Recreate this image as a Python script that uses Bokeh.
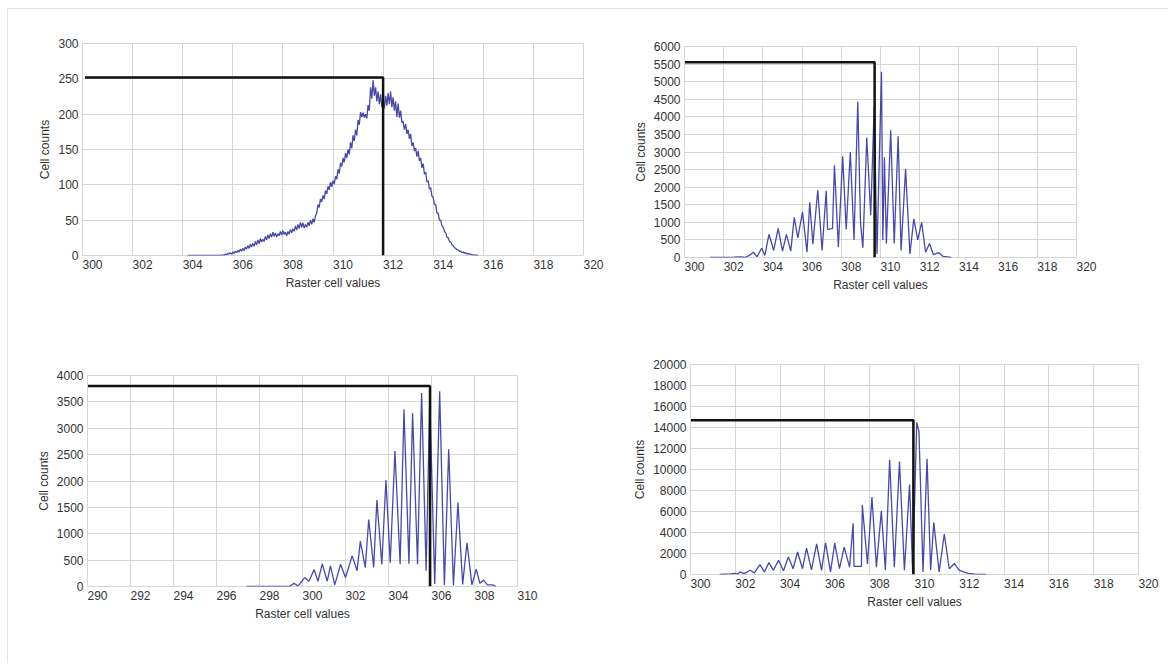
from bokeh.plotting import figure
from bokeh.models import Range1d, FixedTicker
from bokeh.layouts import row, column
from bokeh.core.properties import value
from bokeh.embed import file_html
from bokeh.resources import INLINE

# ---------------- data ----------------
# Panel 1 (top-left): histogram bins every 0.05 starting at 304.2
p1_start = 304.2
p1_step = 0.05
p1_counts = [0] * 26 + [
    0, 0, 1, 0, 2, 1, 3, 2, 4, 2, 5,
    3, 6, 4, 7, 5, 9, 6, 10, 7, 12, 9, 14, 10, 16, 12, 17, 13, 20, 15, 22,
    17, 24, 19, 23, 20, 27, 22, 29, 24, 31, 26, 33, 27, 32, 26, 31, 28, 34, 29, 35,
    30, 33, 28, 34, 30, 37, 32, 38, 34, 42, 36, 44, 38, 47, 40, 46, 39, 44, 40, 47,
    42, 50, 44, 52, 47, 56, 60, 72, 68, 80, 76, 85, 80, 92, 87, 98, 93, 104, 97, 106,
    101, 112, 108, 122, 116, 131, 126, 138, 132, 145, 138, 150, 143, 160, 152, 170, 162, 178, 170, 192,
    185, 203, 196, 202, 195, 200, 194, 213, 205, 238, 222, 248, 226, 238, 218, 232, 214, 228, 210, 222,
    208, 226, 212, 230, 214, 232, 210, 224, 205, 218, 196, 215, 195, 205, 188, 190, 178, 186, 172, 178,
    165, 172, 155, 160, 148, 152, 140, 148, 134, 138, 124, 130, 115, 118, 104, 106, 94, 96, 84, 82,
    72, 72, 60, 60, 50, 50, 42, 40, 34, 32, 26, 25, 20, 19, 15, 14, 11, 10, 8, 8,
    6, 6, 4, 5, 3, 4, 2, 3, 2, 2, 1, 1, 0, 1, 0, 0,
]
p1_values = [round(p1_start + p1_step * i, 2) for i in range(len(p1_counts))]
p1_xticks = [300, 302, 304, 306, 308, 310, 312, 314, 316, 318, 320]
p1_yticks = [0, 50, 100, 150, 200, 250, 300]
p1_mark_x, p1_mark_y, p1_mark_from = 312.0, 252, 300.1

# Panel 2 (top-right)
p2_values = [301.3, 302.0, 302.5, 302.9, 303.1, 303.3, 303.52, 303.7, 303.94, 304.1,
             304.31, 304.55, 304.78, 305.0, 305.2, 305.42, 305.6, 305.78, 306.02, 306.25,
             306.39, 306.55, 306.8, 307.02, 307.23, 307.3, 307.55, 307.65, 307.85, 308.07,
             308.25, 308.46, 308.65, 308.84, 308.98, 309.1, 309.3, 309.5, 309.68, 309.82,
             310.05, 310.12, 310.2, 310.3, 310.52, 310.7, 310.9, 311.05, 311.28, 311.5,
             311.7, 311.9, 312.1, 312.3, 312.5, 312.7, 312.97, 313.2, 313.6]
p2_counts = [0, 0, 10, 20, 0, 60, 150, 20, 270, 60,
             660, 200, 830, 180, 660, 180, 1140, 560, 1290, 150,
             1570, 380, 1920, 200, 1900, 800, 820, 2620, 300, 2880,
             800, 3000, 500, 4430, 1000, 280, 3410, 1200, 4300, 100,
             5280, 500, 2850, 400, 3620, 400, 3450, 200, 2520, 100,
             1100, 500, 1000, 150, 400, 80, 140, 30, 0]
p2_xticks = [300, 302, 304, 306, 308, 310, 312, 314, 316, 318, 320]
p2_yticks = [0, 500, 1000, 1500, 2000, 2500, 3000, 3500, 4000, 4500, 5000, 5500, 6000]
p2_mark_x, p2_mark_y, p2_mark_from = 309.7, 5550, 300.0

# Panel 3 (bottom-left)
p3_values = [297.4, 299.4, 299.6, 299.8, 300.1, 300.3, 300.54, 300.72, 300.92, 301.15,
             301.3, 301.5, 301.77, 302.0, 302.31, 302.54, 302.69, 302.92, 303.08, 303.31,
             303.46, 303.69, 303.88, 304.08, 304.3, 304.54, 304.72, 304.95, 305.12, 305.35,
             305.54, 305.75, 305.92, 306.15, 306.38, 306.6, 306.8, 307.02, 307.23, 307.45,
             307.65, 307.88, 308.08, 308.25, 308.42, 308.6, 308.85, 309.0]
p3_counts = [0, 0, 60, 10, 170, 100, 320, 100, 430, 100,
             390, 30, 420, 170, 580, 300, 860, 360, 1270, 360,
             1640, 420, 2020, 450, 2570, 420, 3360, 430, 3290, 420,
             3670, 300, 3550, 50, 3700, 30, 2600, 20, 1590, 40,
             830, 30, 330, 60, 120, 30, 30, 0]
p3_xticks = [290, 292, 294, 296, 298, 300, 302, 304, 306, 308, 310]
p3_yticks = [0, 500, 1000, 1500, 2000, 2500, 3000, 3500, 4000]
p3_mark_x, p3_mark_y, p3_mark_from = 305.93, 3800, 290.0

# Panel 4 (bottom-right)
p4_values = [301.3, 301.8, 302.0, 302.1, 302.2, 302.4, 302.67, 302.85, 303.1, 303.3,
             303.5, 303.7, 303.93, 304.15, 304.37, 304.58, 304.78, 305.0, 305.18, 305.4,
             305.63, 305.85, 306.03, 306.25, 306.44, 306.65, 306.86, 307.1, 307.26, 307.3,
             307.63, 307.67, 307.9, 308.1, 308.3, 308.52, 308.7, 308.89, 309.1, 309.33,
             309.55, 309.78, 309.92, 310.1, 310.2, 310.38, 310.56, 310.72, 310.86, 311.1,
             311.33, 311.55, 311.78, 312.0, 312.2, 312.4, 312.7, 313.2]
p4_counts = [0, 50, 100, 20, 250, 80, 400, 150, 940, 250,
             1130, 400, 1350, 350, 1660, 550, 2140, 550, 2510, 450,
             2920, 400, 3010, 250, 2980, 550, 2600, 700, 4870, 780,
             780, 6630, 1000, 7380, 700, 6060, 400, 10930, 700, 10770,
             400, 8570, 100, 14480, 13600, 250, 11020, 400, 4960, 250,
             3860, 550, 1040, 400, 250, 100, 30, 0]
p4_xticks = [300, 302, 304, 306, 308, 310, 312, 314, 316, 318, 320]
p4_yticks = [0, 2000, 4000, 6000, 8000, 10000, 12000, 14000, 16000, 18000, 20000]
p4_mark_x, p4_mark_y, p4_mark_from = 309.95, 14700, 300.0

x_title = "Raster cell values"
y_title = "Cell counts"

FONT = "Liberation Sans"
GRID = "#d6d6d6"
CURVE = "#35359c"
TEXT = "#333333"


def panel(xs, ys, xticks, yticks, mx, my, mfrom, w, h, bl, br, bt, bb):
    p = figure(width=w, height=h,
               x_range=Range1d(xticks[0], xticks[-1]),
               y_range=Range1d(yticks[0], yticks[-1]),
               output_backend="svg", toolbar_location=None,
               min_border_left=bl, min_border_right=br,
               min_border_top=bt, min_border_bottom=bb,
               background_fill_color="white", border_fill_color="white")
    p.frame_align = False
    p.xaxis.ticker = FixedTicker(ticks=xticks)
    p.xgrid.ticker = FixedTicker(ticks=xticks)
    p.yaxis.ticker = FixedTicker(ticks=yticks)
    p.ygrid.ticker = FixedTicker(ticks=yticks)
    # the x axis is replaced by left-aligned tick labels and a title (below)
    p.xaxis.visible = False
    ax = p.yaxis[0]
    ax.major_tick_line_color = None
    ax.minor_tick_line_color = None
    ax.major_tick_out = 0
    ax.major_tick_in = 0
    ax.axis_line_color = GRID
    ax.major_label_text_font = FONT
    ax.major_label_text_font_size = "12px"
    ax.major_label_text_color = TEXT
    ax.axis_label = y_title
    ax.axis_label_text_font = FONT
    ax.axis_label_text_font_size = "12px"
    ax.axis_label_text_font_style = "normal"
    ax.axis_label_text_color = TEXT
    ax.major_label_standoff = 4
    ax.axis_label_standoff = 3
    p.xgrid.grid_line_color = GRID
    p.ygrid.grid_line_color = GRID
    p.outline_line_color = GRID
    p.line(xs, ys, line_color=CURVE, line_width=1.3, line_alpha=0.9)
    p.line([mfrom, mx, mx], [my, my, yticks[0]], line_color="#111111", line_width=2.5)
    p.text(x=xticks, y=[yticks[0]] * len(xticks), text=[str(t) for t in xticks],
           text_align="left", text_baseline="top", y_offset=4,
           text_font=value(FONT), text_font_size=value("12px"), text_color=TEXT,
           level="overlay")
    p.text(x=[(xticks[0] + xticks[-1]) / 2], y=[yticks[0]], text=[x_title],
           text_align="center", text_baseline="top", y_offset=20,
           text_font=value(FONT), text_font_size=value("12px"), text_color=TEXT,
           level="overlay")
    return p


f1 = panel(p1_values, p1_counts, p1_xticks, p1_yticks, p1_mark_x, p1_mark_y, p1_mark_from,
           622, 323, 74, 47, 34, 77)
f2 = panel(p2_values, p2_counts, p2_xticks, p2_yticks, p2_mark_x, p2_mark_y, p2_mark_from,
           538, 323, 53, 92, 37, 75)
f3 = panel(p3_values, p3_counts, p3_xticks, p3_yticks, p3_mark_x, p3_mark_y, p3_mark_from,
           622, 331, 79, 113, 43, 77)
f4 = panel(p4_values, p4_counts, p4_xticks, p4_yticks, p4_mark_x, p4_mark_y, p4_mark_from,
           538, 331, 58, 30, 32, 89)

layout = column(row(f1, f2), row(f3, f4), margin=(8, 0, 0, 7),
                styles={"border-top": "1px solid #e4e4e4", "border-left": "1px solid #e4e4e4"})

open("out.html", "w").write(file_html(layout, INLINE))
